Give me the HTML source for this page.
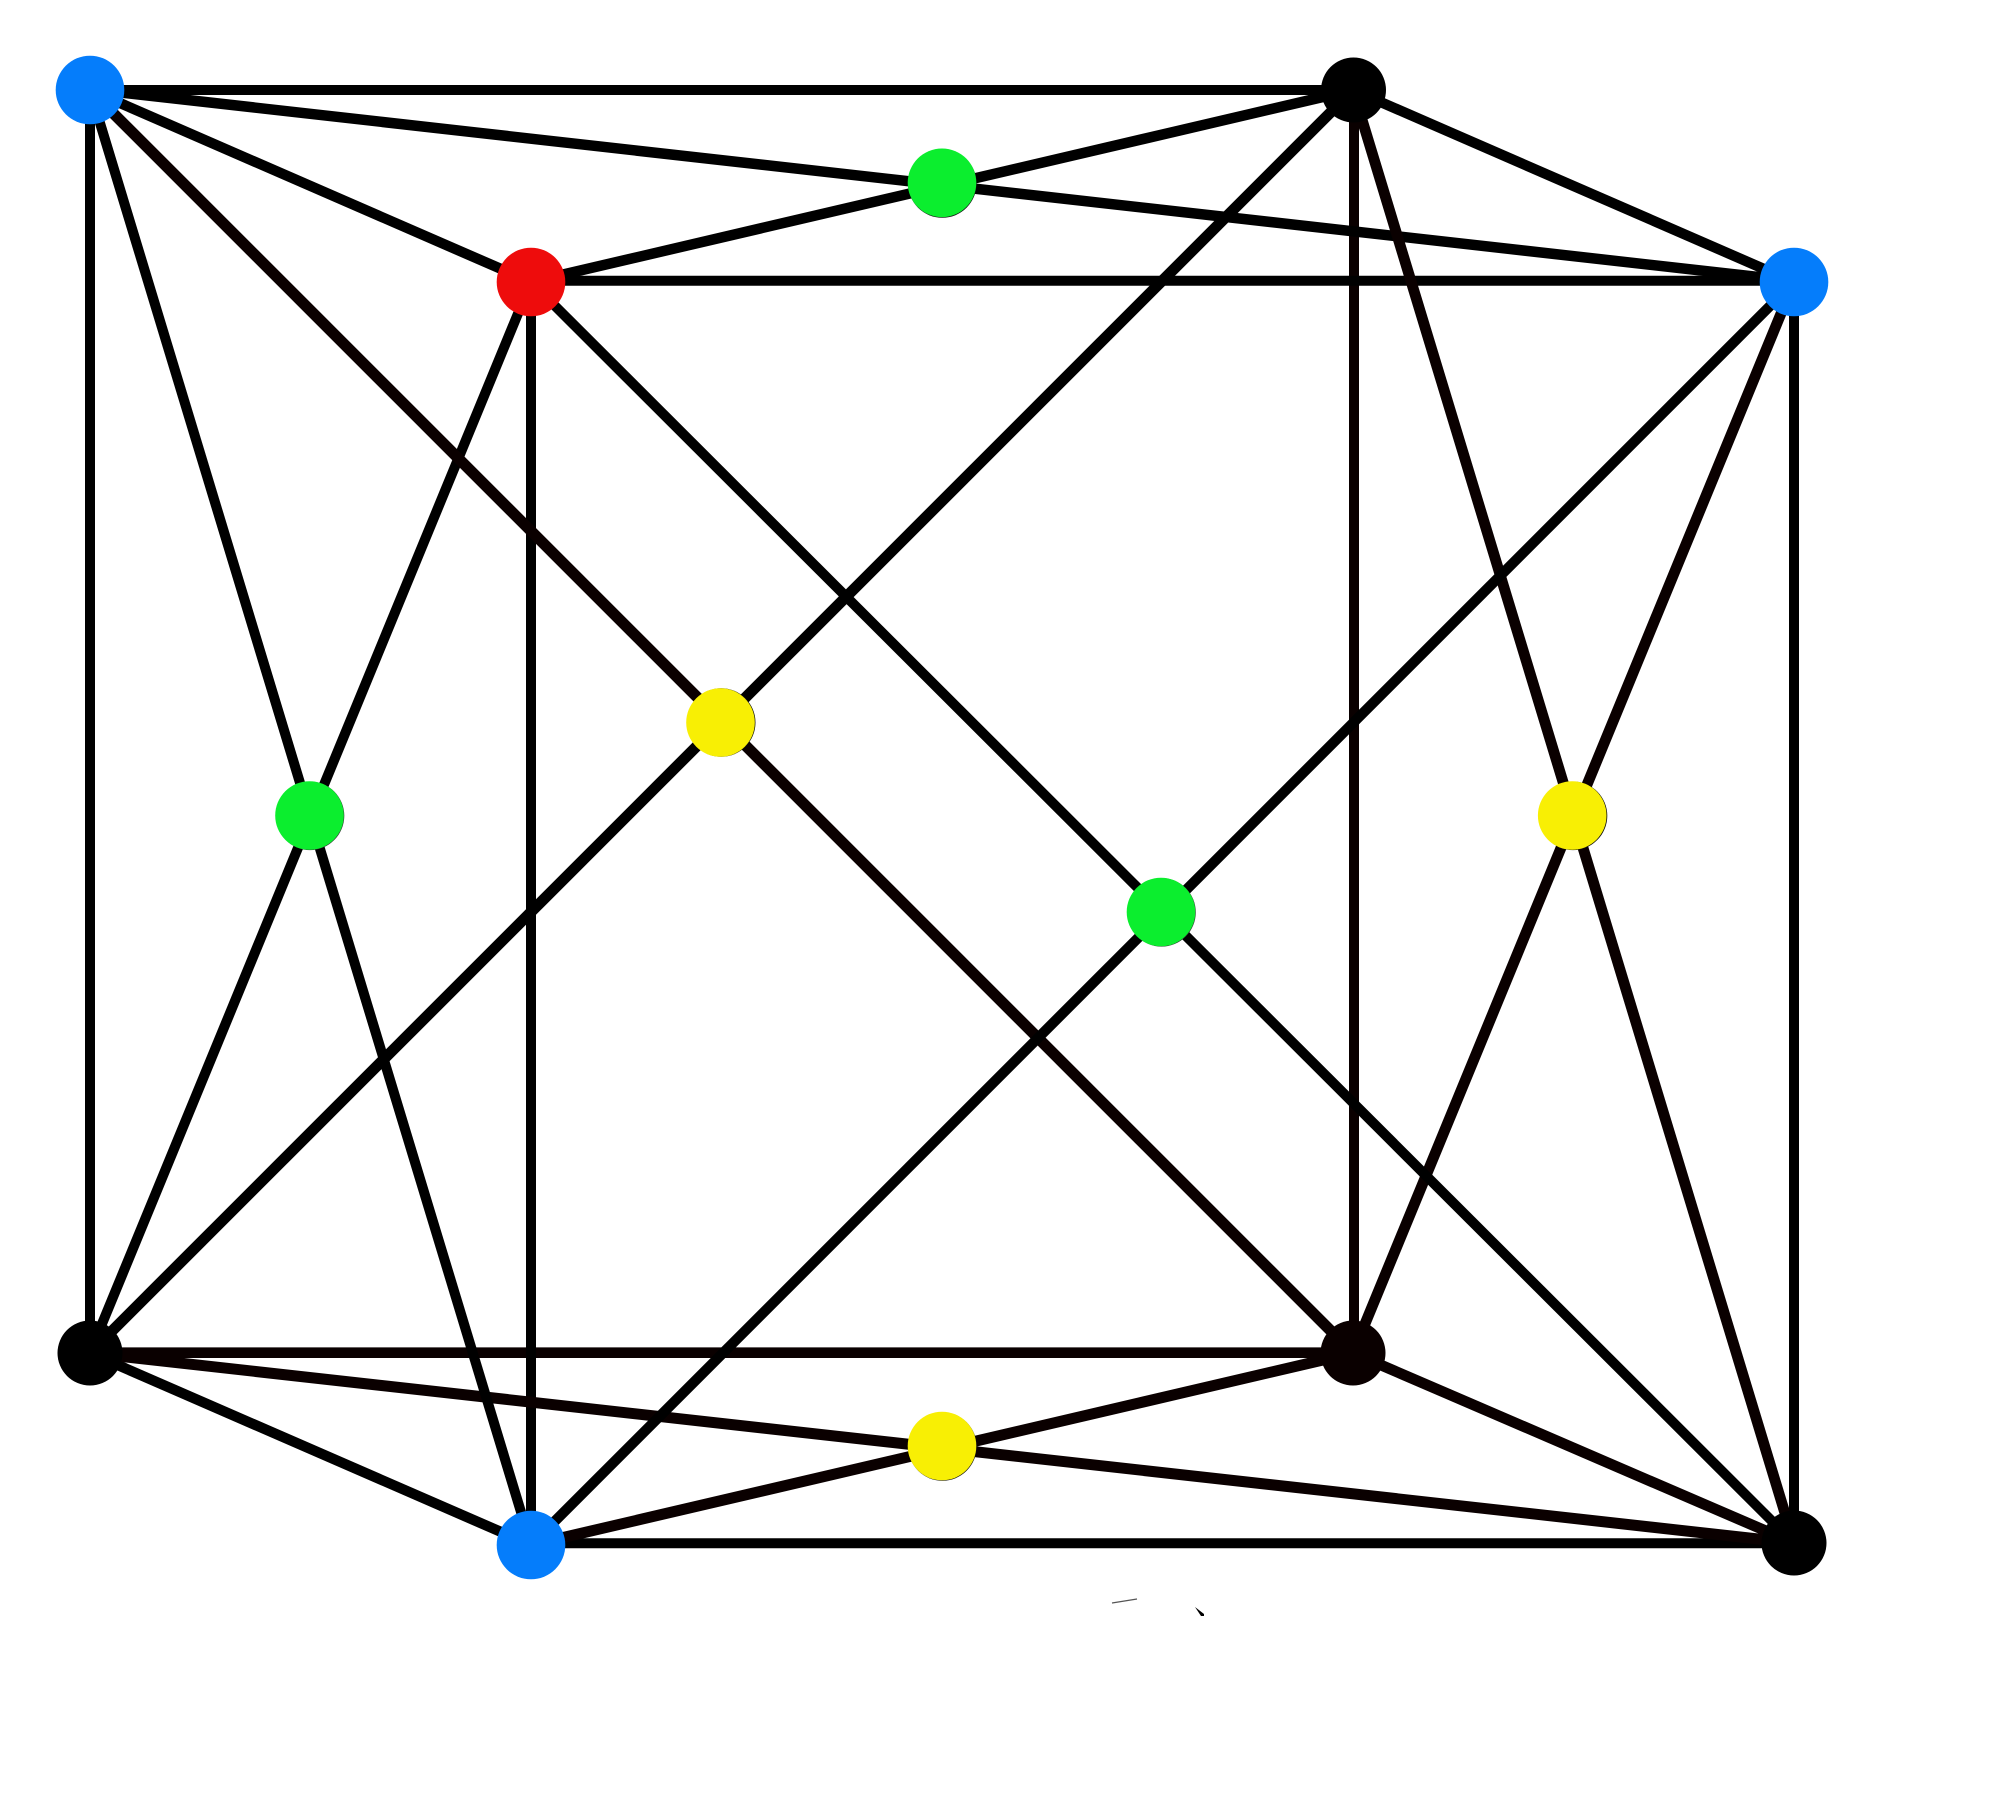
<!DOCTYPE html>
<html>
<head>
<meta charset="utf-8">
<title>Cube diagram</title>
<style>
html,body{margin:0;padding:0;background:#fff;}
svg{display:block;}
</style>
</head>
<body>
<svg width="2000" height="1799" viewBox="0 0 2000 1799" xmlns="http://www.w3.org/2000/svg">
<rect width="2000" height="1799" fill="#fff"/>
<g stroke="#000" stroke-width="10" fill="none">
<!-- front square -->
<line x1="90" y1="90" x2="1353" y2="90"/>
<line x1="90" y1="90" x2="90" y2="1353"/>
<line x1="1354" y1="90" x2="1354" y2="1353" stroke="#0a0000" stroke-width="10"/>
<line x1="90" y1="1352.700" x2="1353" y2="1352.700" stroke="#0a0000" stroke-width="10.700"/>
<!-- back square -->
<line x1="531" y1="280.700" x2="1794" y2="280.700"/>
<line x1="531" y1="282" x2="531" y2="1545"/>
<line x1="1794" y1="282" x2="1794" y2="1543"/>
<line x1="531" y1="1543.300" x2="1794" y2="1543.300"/>
<!-- connecting edges -->
<line x1="90" y1="90" x2="531" y2="282" stroke-width="10.300"/>
<line x1="1353" y1="90" x2="1794" y2="282" stroke-width="10.300"/>
<line x1="90" y1="1353" x2="531" y2="1545" stroke-width="10.300"/>
<line x1="1353" y1="1353" x2="1794" y2="1543" stroke="#0a0000" stroke-width="10.800"/>
<!-- top face diagonals -->
<line x1="90" y1="89" x2="1794" y2="281" stroke-width="10.500"/>
<line x1="531" y1="282" x2="1353" y2="90" stroke-width="10.500"/>
<!-- bottom face diagonals -->
<line x1="90" y1="1353" x2="1794" y2="1543" stroke="#0a0000" stroke-width="11"/>
<line x1="531" y1="1545" x2="1353" y2="1353" stroke="#0a0000" stroke-width="11"/>
<!-- left face diagonals -->
<line x1="90" y1="90" x2="531" y2="1545"/>
<line x1="531" y1="282" x2="90" y2="1353"/>
<!-- right face diagonals -->
<line x1="1353" y1="90" x2="1794" y2="1543" stroke="#0a0000" stroke-width="10.800"/>
<line x1="1794" y1="282" x2="1353" y2="1353" stroke="#0a0000" stroke-width="10.800"/>
<!-- front face diagonals -->
<line x1="90" y1="90" x2="1353" y2="1353" stroke="#0a0000" stroke-width="11.200"/>
<line x1="1353" y1="90" x2="90" y2="1353" stroke-width="11"/>
<!-- back face diagonals -->
<line x1="531" y1="282" x2="1794" y2="1543" stroke-width="10"/>
<line x1="1794" y1="282" x2="531" y2="1545" stroke-width="10.300"/>
</g>
<!-- small artifacts -->
<line x1="1112" y1="1603" x2="1137" y2="1599" stroke="#555" stroke-width="1.200"/>
<polygon points="1195,1607 1204,1614 1204,1616 1201,1616" fill="#000"/>
<!-- black nodes -->
<circle cx="1353.500" cy="90" r="32.500" fill="#000"/>
<circle cx="90" cy="1353" r="32.500" fill="#000"/>
<circle cx="1353" cy="1353" r="32.500" fill="#0a0000"/>
<circle cx="1794" cy="1543" r="32.500" fill="#000"/>
<!-- blue nodes -->
<circle cx="90" cy="90" r="34.300" fill="#057dfb"/>
<circle cx="1794" cy="282" r="34.300" fill="#057dfb"/>
<circle cx="531" cy="1545" r="34.300" fill="#057dfb"/>
<!-- red node -->
<circle cx="531" cy="282" r="34.300" fill="#ee0c0c"/>
<!-- dark crescents under coloured nodes -->
<circle cx="942.300" cy="183.500" r="34.300" fill="#111"/>
<circle cx="310" cy="815.800" r="34.300" fill="#333"/>
<circle cx="1161.500" cy="912.300" r="34.300" fill="#333"/>
<circle cx="721.200" cy="722.500" r="34.300" fill="#111"/>
<circle cx="1573" cy="815.800" r="34.300" fill="#111"/>
<circle cx="942.400" cy="1446.500" r="34.300" fill="#111"/>
<!-- green nodes -->
<circle cx="942" cy="182.800" r="34.300" fill="#0bee2e"/>
<circle cx="309.500" cy="815.500" r="34.300" fill="#0bee2e"/>
<circle cx="1161" cy="912" r="34.300" fill="#0bee2e"/>
<!-- yellow nodes -->
<circle cx="720.500" cy="722.500" r="34.300" fill="#f8ef04"/>
<circle cx="1572.200" cy="815.500" r="34.300" fill="#f8ef04"/>
<circle cx="942" cy="1446" r="34.300" fill="#f8ef04"/>
</svg>
</body>
</html>
